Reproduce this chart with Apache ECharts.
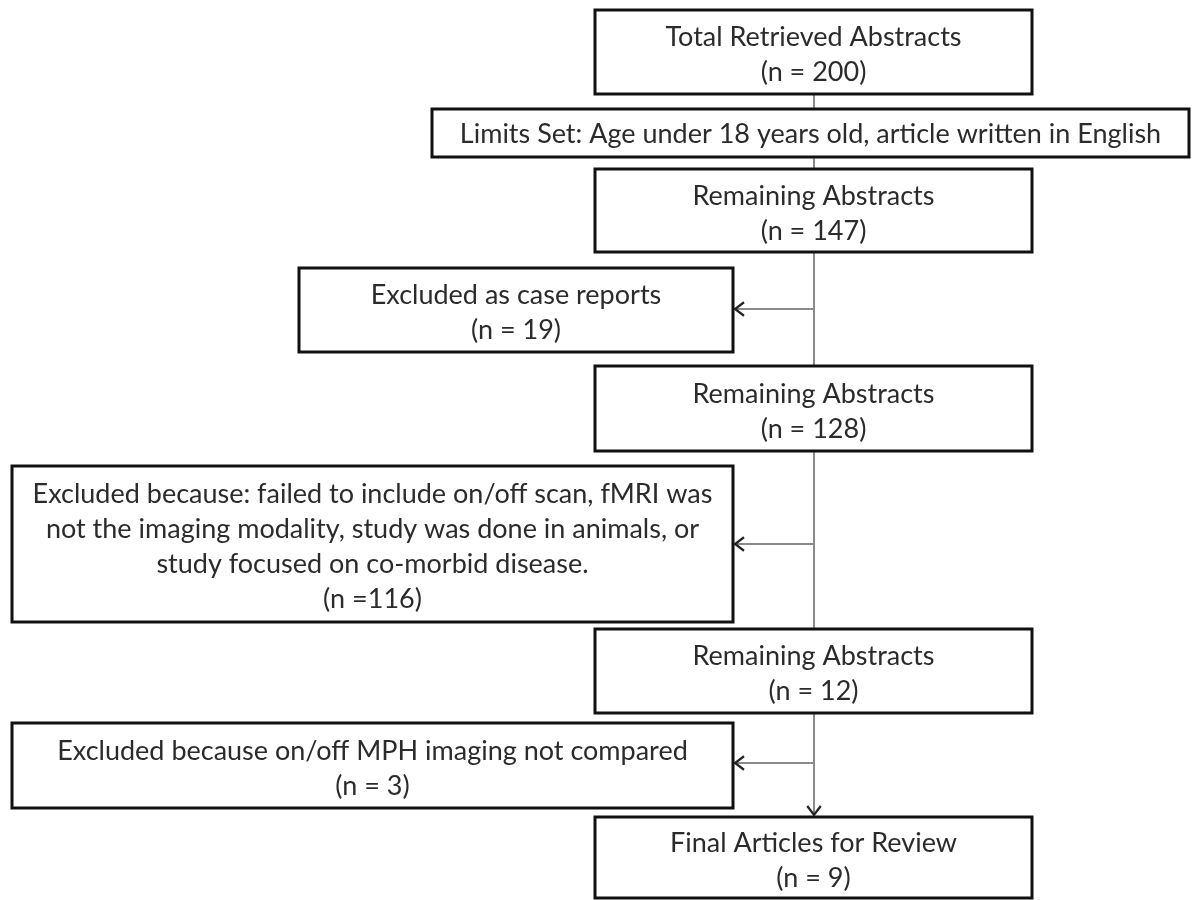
<!DOCTYPE html>
<html>
<head>
<meta charset="utf-8">
<script src="https://cdn.jsdelivr.net/npm/echarts@6/dist/echarts.min.js"></script>
<style>
html,body{margin:0;padding:0;background:#fff;}
#chart{width:1194px;height:900px;}
</style>
</head>
<body>
<div id="chart"></div>
<script>
// Flowchart content
const boxTitles = [
  'Total Retrieved Abstracts',
  'Limits Set: Age under 18 years old, article written in English',
  'Remaining Abstracts',
  'Excluded as case reports',
  'Remaining Abstracts',
  'Excluded because: failed to include on/off scan, fMRI was\nnot the imaging modality, study was done in animals, or\nstudy focused on co-morbid disease.',
  'Remaining Abstracts',
  'Excluded because on/off MPH imaging not compared',
  'Final Articles for Review'
];
const boxCounts = ['(n = 200)', null, '(n = 147)', '(n = 19)', '(n = 128)', '(n =116)', '(n = 12)', '(n = 3)', '(n = 9)'];
// Layout of the boxes in diagram units: [left, top, right, bottom]
const boxLayout = [
  [595, 10, 1032, 94],
  [432, 109, 1189, 157],
  [595, 169, 1032, 252],
  [299, 268, 733, 352],
  [595, 366, 1032, 451],
  [12, 466, 733, 622],
  [595, 629, 1032, 713],
  [12, 723, 733, 808],
  [595, 817, 1032, 898]
];
// Connectors: [x1, y1, x2, y2, hasArrow]
const connectors = [
  [814, 94, 814, 815, 1],
  [814, 309, 735, 309, 1],
  [814, 544, 735, 544, 1],
  [814, 763, 735, 763, 1]
];

const FONT = 'Lato, "Open Sans", sans-serif';

const chart = echarts.init(document.getElementById('chart'));
chart.setOption({
  animation: false,
  backgroundColor: '#fff',
  grid: {left: 0, right: 0, top: 0, bottom: 0},
  xAxis: {type: 'value', min: 0, max: 1194, show: false},
  yAxis: {type: 'value', min: 0, max: 900, inverse: true, show: false},
  series: [
    {
      type: 'custom',
      coordinateSystem: 'cartesian2d',
      z: 1,
      data: connectors,
      renderItem: function (params, api) {
        const p1 = api.coord([api.value(0), api.value(1)]);
        const p2 = api.coord([api.value(2), api.value(3)]);
        const children = [{
          type: 'line',
          shape: {x1: p1[0], y1: p1[1], x2: p2[0], y2: p2[1]},
          style: {stroke: '#8a8a8a', lineWidth: 2}
        }];
        if (api.value(4)) {
          const dx = p2[0] - p1[0], dy = p2[1] - p1[1];
          const len = Math.sqrt(dx * dx + dy * dy);
          const ux = dx / len, uy = dy / len;
          const s = 9;
          children.push({
            type: 'polyline',
            shape: {points: [
              [p2[0] - ux * s - uy * s * 0.75, p2[1] - uy * s + ux * s * 0.75],
              [p2[0], p2[1]],
              [p2[0] - ux * s + uy * s * 0.75, p2[1] - uy * s - ux * s * 0.75]
            ]},
            style: {stroke: '#222', lineWidth: 2.2, fill: null}
          });
        }
        return {type: 'group', children: children};
      }
    },
    {
      type: 'custom',
      coordinateSystem: 'cartesian2d',
      z: 2,
      data: boxLayout.map(function (b, i) { return [b[0], b[1], b[2], b[3], i]; }),
      renderItem: function (params, api) {
        const i = api.value(4);
        const a = api.coord([api.value(0), api.value(1)]);
        const b = api.coord([api.value(2), api.value(3)]);
        const multi = !!boxCounts[i];
        const text = multi ? boxTitles[i] + '\n' + boxCounts[i] : boxTitles[i];
        return {
          type: 'group',
          children: [
            {
              type: 'rect',
              shape: {x: a[0], y: a[1], width: b[0] - a[0], height: b[1] - a[1]},
              style: {fill: '#fff', stroke: '#111', lineWidth: 3}
            },
            {
              type: 'text',
              x: (a[0] + b[0]) / 2,
              y: (a[1] + b[1]) / 2 + (multi ? 3 : 1),
              style: {
                text: text,
                fill: '#2b2b2b',
                font: '27px ' + FONT,
                align: 'center',
                verticalAlign: 'middle',
                lineHeight: 35
              }
            }
          ]
        };
      }
    }
  ]
});
</script>
</body>
</html>
